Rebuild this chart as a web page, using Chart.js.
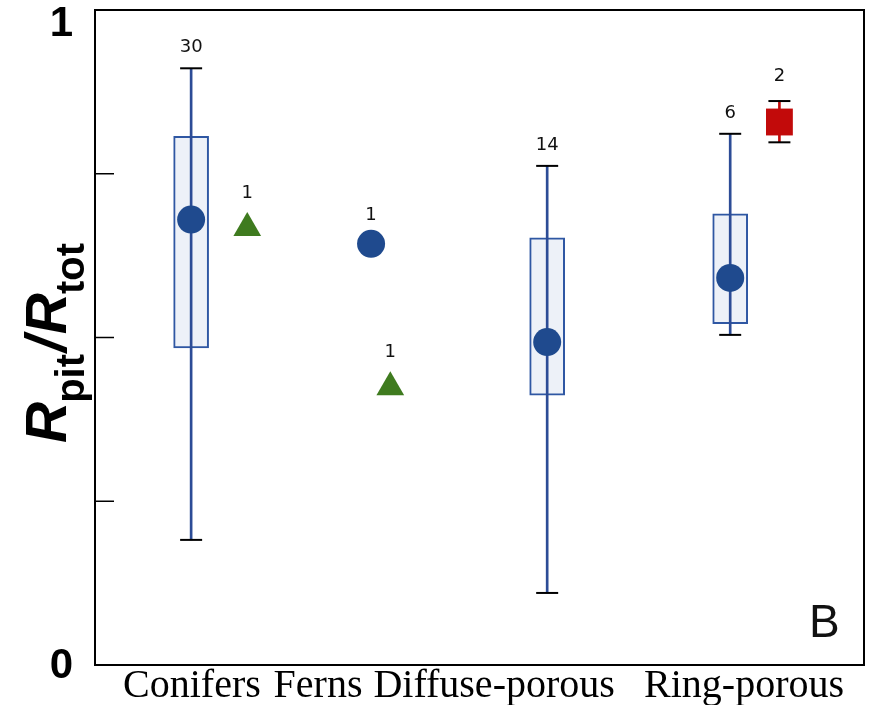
<!DOCTYPE html>
<html>
<head>
<meta charset="utf-8">
<script src="https://cdn.jsdelivr.net/npm/chart.js@4.4.1/dist/chart.umd.min.js"></script>
<style>
  html, body { margin: 0; padding: 0; background: #fff; }
  #wrap { width: 871px; height: 705px; }
</style>
</head>
<body>
<div id="wrap"><canvas id="chart"></canvas></div>
<script>
// categories along the bottom and where their names sit on the 0-100 x scale
const groups = ['Conifers', 'Ferns', 'Diffuse-porous', 'Ring-porous'];
const groupLabelX = [12.6, 29.0, 51.9, 84.4];

// blue box plots (Conifers, Diffuse-porous, Ring-porous)
const boxX = [12.5, 58.8, 82.6];
const boxWhiskerLow = [0.191, 0.110, 0.504];
const boxLow = [0.484, 0.412, 0.521];
const boxMean = [0.680, 0.493, 0.591];
const boxHigh = [0.807, 0.652, 0.689];
const boxWhiskerHigh = [0.911, 0.762, 0.811];
const boxN = [30, 14, 6];

// single blue point (Ferns)
const dotX = [35.9];
const dotY = [0.643];
const dotN = [1];

// green triangles
const triX = [19.8, 38.4];
const triY = [0.667, 0.424];
const triN = [1, 1];

// red square with its range
const sqX = [89.0];
const sqY = [0.829];
const sqLow = [0.798];
const sqHigh = [0.861];
const sqN = [2];

const yTicks = [0, 0.25, 0.5, 0.75, 1];
const yTickLabels = ['0', '', '', '', '1'];

const BLUE = '#1f4a8e';
const GREEN = '#3f7b1f';
const RED = '#c20a0a';

const boxData = boxX.map((x, i) => ({ x, y: [boxLow[i], boxHigh[i]] }));
const whiskerData = boxX.map((x, i) => ({ x, y: [boxWhiskerLow[i], boxWhiskerHigh[i]] }))
  .concat(sqX.map((x, i) => ({ x, y: [sqLow[i], sqHigh[i]] })));
const whiskerColors = boxX.map(() => '#2c4c96').concat(sqX.map(() => RED));
const capData = [];
boxX.forEach((x, i) => { capData.push({ x, y: boxWhiskerLow[i] }, { x, y: boxWhiskerHigh[i] }); });
sqX.forEach((x, i) => { capData.push({ x, y: sqLow[i] }, { x, y: sqHigh[i] }); });
const meanData = boxX.map((x, i) => ({ x, y: boxMean[i] }))
  .concat(dotX.map((x, i) => ({ x, y: dotY[i] })));

const overlay = {
  id: 'overlay',
  afterDraw(chart) {
    const ctx = chart.ctx;
    const xs = chart.scales.x;
    const ys = chart.scales.y;
    const a = chart.chartArea;
    ctx.save();

    // frame
    ctx.strokeStyle = '#000';
    ctx.lineWidth = 2;
    ctx.strokeRect(a.left, a.top, a.right - a.left, a.bottom - a.top);

    // inner tick marks and the two labels
    ctx.lineWidth = 1.5;
    ctx.fillStyle = '#000';
    ctx.font = 'bold 42px "Liberation Sans", Arial, sans-serif';
    ctx.textAlign = 'right';
    ctx.textBaseline = 'middle';
    yTicks.forEach((v, i) => {
      const py = ys.getPixelForValue(v);
      if (v > 0 && v < 1) {
        ctx.beginPath();
        ctx.moveTo(a.left, py);
        ctx.lineTo(a.left + 19, py);
        ctx.stroke();
      }
      if (yTickLabels[i]) {
        ctx.fillText(yTickLabels[i], a.left - 22, Math.max(py, a.top + 13) + 1);
      }
    });

    // category names
    ctx.font = '40px "Liberation Serif", "Times New Roman", serif';
    ctx.textAlign = 'center';
    ctx.textBaseline = 'alphabetic';
    groups.forEach((g, i) => {
      ctx.fillText(g, xs.getPixelForValue(groupLabelX[i]), a.bottom + 32);
    });

    // sample sizes
    ctx.font = '18px "DejaVu Sans", sans-serif';
    ctx.fillStyle = '#111';
    boxX.forEach((x, i) => {
      ctx.fillText(String(boxN[i]), xs.getPixelForValue(x), ys.getPixelForValue(boxWhiskerHigh[i]) - 16);
    });
    dotX.forEach((x, i) => {
      ctx.fillText(String(dotN[i]), xs.getPixelForValue(x), ys.getPixelForValue(dotY[i]) - 24);
    });
    triX.forEach((x, i) => {
      ctx.fillText(String(triN[i]), xs.getPixelForValue(x), ys.getPixelForValue(triY[i]) - 30);
    });
    sqX.forEach((x, i) => {
      ctx.fillText(String(sqN[i]), xs.getPixelForValue(x), ys.getPixelForValue(sqHigh[i]) - 20);
    });

    // panel letter
    ctx.font = '46px "Liberation Sans", Arial, sans-serif';
    ctx.textAlign = 'left';
    ctx.fillText('B', a.right - 55, a.bottom - 28);

    // y axis title R_pit / R_tot
    ctx.translate(66, 443);
    ctx.rotate(-Math.PI / 2);
    ctx.fillStyle = '#000';
    let tx = 0;
    const parts = [
      ['R', 'italic bold 57px "Liberation Sans", Arial, sans-serif', 0],
      ['pit', 'bold 40px "Liberation Sans", Arial, sans-serif', 18],
      ['/', 'italic bold 57px "Liberation Sans", Arial, sans-serif', 0],
      ['R', 'italic bold 57px "Liberation Sans", Arial, sans-serif', 0],
      ['tot', 'bold 40px "Liberation Sans", Arial, sans-serif', 18]
    ];
    parts.forEach(([t, f, dy]) => {
      ctx.font = f;
      ctx.fillText(t, tx, dy);
      tx += ctx.measureText(t).width + (t === 'R' ? -1 : 2);
    });

    ctx.restore();
  }
};

new Chart(document.getElementById('chart').getContext('2d'), {
  type: 'scatter',
  data: {
    datasets: [
      {
        type: 'bar',
        label: 'box',
        data: boxData,
        grouped: false,
        barThickness: 35,
        backgroundColor: '#edf1f8',
        borderColor: '#2f57a3',
        borderWidth: 2,
        borderSkipped: false,
        order: 6
      },
      {
        type: 'bar',
        label: 'whisker',
        data: whiskerData,
        grouped: false,
        barThickness: 2,
        backgroundColor: whiskerColors,
        borderWidth: 0,
        order: 5
      },
      {
        label: 'caps',
        data: capData,
        pointStyle: 'line',
        pointRadius: 11,
        borderColor: '#000',
        borderWidth: 2,
        order: 4
      },
      {
        label: 'mean',
        data: meanData,
        pointStyle: 'circle',
        pointRadius: 14,
        backgroundColor: BLUE,
        borderColor: BLUE,
        borderWidth: 0,
        order: 3
      },
      {
        label: 'triangle',
        data: triX.map((x, i) => ({ x, y: triY[i] })),
        pointStyle: 'triangle',
        pointRadius: 16,
        backgroundColor: GREEN,
        borderColor: GREEN,
        borderWidth: 0,
        order: 2
      },
      {
        label: 'square',
        data: sqX.map((x, i) => ({ x, y: sqY[i] })),
        pointStyle: 'rect',
        pointRadius: 19,
        backgroundColor: RED,
        borderColor: RED,
        borderWidth: 0,
        order: 1
      }
    ]
  },
  options: {
    responsive: true,
    maintainAspectRatio: false,
    animation: false,
    layout: { autoPadding: false, padding: { left: 95, right: 7, top: 10, bottom: 40 } },
    scales: {
      x: { type: 'linear', min: 0, max: 100, offset: false, display: false },
      y: { type: 'linear', min: 0, max: 1, display: false }
    },
    plugins: {
      legend: { display: false },
      tooltip: { enabled: false }
    }
  },
  plugins: [overlay]
});
</script>
</body>
</html>
